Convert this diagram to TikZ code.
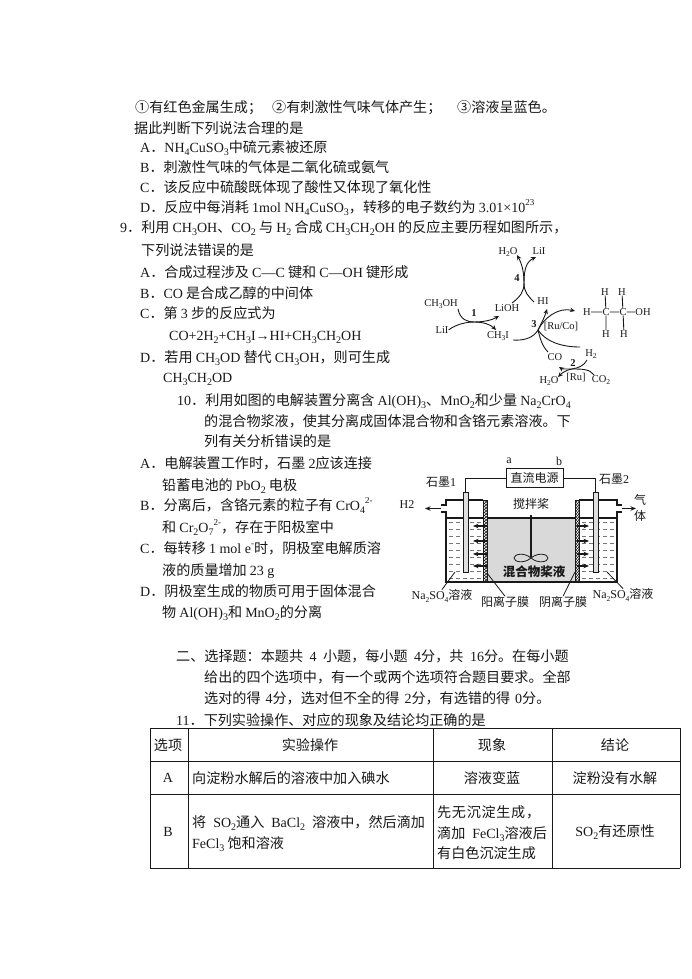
\documentclass[tikz,border=0pt]{standalone}
\usepackage{fontspec}
\setmainfont{Noto Sans CJK SC}
\newfontfamily\latinf{Liberation Serif}
\usetikzlibrary{arrows.meta,patterns}
\definecolor{ink}{gray}{0.1}
\newcommand\lt[1]{{\latinf\fontsize{14}{14}\selectfont #1}}
\newcommand\sbx[1]{\raisebox{-0.22em}{\latinf\fontsize{10}{10}\selectfont #1}}
\newcommand\spx[1]{\raisebox{0.45em}{\latinf\fontsize{9}{9}\selectfont #1}}
\newcommand\TL[4]{\node[txt] (#1) at (#2,{#3+5}) {#4};}
\newcommand\CT[4]{\node[ctxt] (#1) at (#2,#3) {#4};}
\newcommand\CH[4]{\node[chem] (#1) at (#2,#3) {#4};}
\newcommand\SB[1]{\raisebox{-0.2em}{\fontsize{7.5}{7.5}\selectfont #1}}
\newcommand\widesp[1]{\spaceskip=#1pt\relax}
\tikzset{
 txt/.style={anchor=base west,inner sep=0pt,text=ink,font=\fontsize{14.1}{14}\selectfont},
 ctxt/.style={anchor=center,inner sep=0pt,text=ink,font=\fontsize{14.1}{14}\selectfont},
 chem/.style={anchor=center,inner sep=0pt,text=ink,font=\latinf\fontsize{10.5}{10.5}\selectfont},
 lab/.style={anchor=center,inner sep=0pt,text=ink,font=\fontsize{12}{12}\selectfont},
 curve/.style={draw=ink,line width=0.9pt},
 curvearrow/.style={curve,-{Stealth[length=5pt,width=4.5pt]}},
 wire/.style={draw=ink,line width=0.8pt},
 heavy/.style={draw=ink,line width=1.2pt},
 flow/.style={draw=ink,line width=1.1pt,-{Stealth[length=5.5pt,width=4.5pt]}},
 rule/.style={draw=ink,line width=0.9pt},
 electrode/.style={draw=ink,fill=gray!25,line width=0.8pt,minimum width=5pt,minimum height=80pt,inner sep=0pt},
}
\begin{document}
\begin{tikzpicture}[x=1pt,y=-1pt]
\fill[white] (0,0) rectangle (692,979);
\useasboundingbox (0,0) rectangle (692,979);
% top text
\TL{a1}{135}{108}{①有红色金属生成；}
\TL{a2}{272}{108}{②有刺激性气味气体产生；}
\TL{a3}{457}{108}{③溶液呈蓝色。}
\TL{a4}{134}{128}{据此判断下列说法合理的是}
\TL{a5}{140}{147}{\lt{A}．\lt{NH\sbx{4}CuSO\sbx{3}}中硫元素被还原}
\TL{a6}{140}{167}{\lt{B}．刺激性气味的气体是二氧化硫或氨气}
\TL{a7}{140}{187}{\lt{C}．该反应中硫酸既体现了酸性又体现了氧化性}
\TL{a8}{140}{207}{\lt{D}．反应中每消耗 \lt{1mol NH\sbx{4}CuSO\sbx{3}}，转移的电子数约为 \lt{3.01×10\spx{23}}}
\TL{b1}{120}{227}{\lt{9}．利用 \lt{CH\sbx{3}OH}、\lt{CO\sbx{2}} 与 \lt{H\sbx{2}} 合成 \lt{CH\sbx{3}CH\sbx{2}OH} 的反应主要历程如图所示，}
\TL{b2}{141}{250}{下列说法错误的是}
\TL{b3}{140}{272}{\lt{A}．合成过程涉及 \lt{C—C} 键和 \lt{C—OH} 键形成}
\TL{b4}{140}{293}{\lt{B}．\lt{CO} 是合成乙醇的中间体}
\TL{b5}{140}{313}{\lt{C}．第 \lt{3} 步的反应式为}
\TL{b6}{169}{335}{\lt{CO+2H\sbx{2}+CH\sbx{3}I→HI+CH\sbx{3}CH\sbx{2}OH}}
\TL{b7}{140}{357}{\lt{D}．若用 \lt{CH\sbx{3}OD} 替代 \lt{CH\sbx{3}OH}，则可生成}
\TL{b8}{163}{377}{\lt{CH\sbx{3}CH\sbx{2}OD}}
\TL{c1}{177}{400}{\lt{10}．利用如图的电解装置分离含 \lt{Al(OH)\sbx{3}}、\lt{MnO\sbx{2}}和少量 \lt{Na\sbx{2}CrO\sbx{4}}}
\TL{c2}{204}{421}{的混合物浆液，使其分离成固体混合物和含铬元素溶液。下}
\TL{c3}{204}{441}{列有关分析错误的是}
\TL{c4}{140}{463}{\lt{A}．电解装置工作时，石墨 \lt{2}应该连接}
\TL{c5}{162}{485}{铅蓄电池的 \lt{PbO\sbx{2}} 电极}
\TL{c6}{140}{505}{\lt{B}．分离后，含铬元素的粒子有 \lt{CrO\sbx{4}\spx{2-}}}
\TL{c7}{162}{527}{和 \lt{Cr\sbx{2}O\sbx{7}\spx{2-}}，存在于阳极室中}
\TL{c8}{140}{548}{\lt{C}．每转移 \lt{1 mol e\spx{-}}时，阴极室电解质溶}
\TL{c9}{162}{570}{液的质量增加 \lt{23 g}}
\TL{c10}{140}{591}{\lt{D}．阴极室生成的物质可用于固体混合}
\TL{c11}{162}{612}{物 \lt{Al(OH)\sbx{3}}和 \lt{MnO\sbx{2}}的分离}
\TL{d1}{176}{656}{\widesp{6.5}二、选择题：本题共 \lt{4} 小题，每小题 \lt{4}分，共 \lt{16}分。在每小题}
\TL{d2}{204}{677}{给出的四个选项中，有一个或两个选项符合题目要求。全部}
\TL{d3}{204}{698}{\widesp{5}选对的得 \lt{4}分，选对但不全的得 \lt{2}分，有选错的得 \lt{0}分。}
\TL{d4}{176}{720}{\lt{11}．下列实验操作、对应的现象及结论均正确的是}
% table
\coordinate (tl) at (150,728); \coordinate (tr) at (680,728);
\coordinate (r1l) at (150,761); \coordinate (r1r) at (680,761);
\coordinate (r2l) at (150,794); \coordinate (r2r) at (680,794);
\coordinate (bl) at (150,868); \coordinate (br) at (680,868);
\draw[rule] (tl) -- (tr) (r1l) -- (r1r) (r2l) -- (r2r) (bl) -- (br) (tl) -- (bl) (tr) -- (br);
\foreach \xx in {188,433,552} \draw[rule] (\xx,728) -- (\xx,868);
\CT{t1}{168}{745}{选项}
\CT{t2}{310}{745}{实验操作}
\CT{t3}{492}{745}{现象}
\CT{t4}{615}{745}{结论}
\CT{t5}{168}{778}{\lt{A}}
\TL{t6}{192}{778}{向淀粉水解后的溶液中加入碘水}
\CT{t7}{492}{778}{溶液变蓝}
\CT{t8}{615}{778}{淀粉没有水解}
\CT{t9}{168}{832}{\lt{B}}
\TL{t10}{192}{822}{\widesp{7}将 \lt{SO\sbx{2}}通入 \lt{BaCl\sbx{2}} 溶液中，然后滴加}
\TL{t11}{192}{843}{\lt{FeCl\sbx{3}} 饱和溶液}
\TL{t12}{437}{812}{\addfontfeature{LetterSpace=5}先无沉淀生成，}
\TL{t13}{437}{833}{\widesp{7}滴加 \lt{FeCl\sbx{3}}溶液后}
\TL{t14}{437}{853}{有白色沉淀生成}
\CT{t15}{615}{832}{\lt{SO\sbx{2}}有还原性}
% reaction scheme
\CH{h2o}{508}{252}{H\SB{2}O}
\CH{lii2}{539}{251}{LiI}
\CH{four}{517}{278}{\textbf{4}}
\CH{lioh}{507}{308}{LiOH}
\CH{hi}{543}{301}{HI}
\CH{meoh}{441}{304}{CH\SB{3}OH}
\CH{lii}{442}{330}{LiI}
\CH{one}{474}{313}{\textbf{1}}
\CH{mei}{498}{336}{CH\SB{3}I}
\CH{three}{534}{324}{\textbf{3}}
\CH{ruco}{561}{327}{[Ru/Co]}
\CH{co}{555}{357}{CO}
\CH{h2}{591}{354}{H\SB{2}}
\CH{two}{573}{363}{\textbf{2}}
\CH{h2ob}{549}{381}{H\SB{2}O}
\CH{ru}{576}{378}{[Ru]}
\CH{co2}{601}{380}{CO\SB{2}}
\CH{eh}{587}{312}{H}
\CH{c1}{606}{312}{C}
\CH{c2}{623}{312}{C}
\CH{oh}{643}{312}{OH}
\CH{ht1}{605}{292}{H}
\CH{ht2}{622}{292}{H}
\CH{hb1}{606}{334}{H}
\CH{hb2}{624}{334}{H}
\draw[curve] (eh) -- (c1) (c1) -- (c2) (c2) -- (oh) (c1) -- (ht1) (c1) -- (hb1) (c2) -- (ht2) (c2) -- (hb2);
\coordinate (m1) at (474,322);
\coordinate (e1a) at (496,330); \coordinate (e1b) at (499,316);
\draw[curvearrow] (meoh.south east) .. controls (460,320) and (468,322) .. (m1) .. controls (482,322) and (490,324) .. (e1a);
\draw[curvearrow] (lii.east) .. controls (452,327) and (462,322) .. (m1) .. controls (484,322) and (492,320) .. (e1b);
\coordinate (m4) at (524,283);
\coordinate (s4a) at (512,303); \coordinate (s4b) at (534,302);
\coordinate (e4a) at (517,255); \coordinate (e4b) at (536,257);
\draw[curvearrow] (s4a) .. controls (520,297) and (524,292) .. (m4) .. controls (524,272) and (522,264) .. (e4a);
\draw[curvearrow] (s4b) .. controls (528,296) and (524,292) .. (m4) .. controls (524,270) and (526,262) .. (e4b);
\coordinate (m3) at (538,330);
\coordinate (s3) at (513,340); \coordinate (s3co) at (548,352); \coordinate (s3h) at (580,347);
\coordinate (e3a) at (547,309); \coordinate (e3b) at (575,311);
\draw[curvearrow] (s3) .. controls (525,341) and (534,337) .. (m3) .. controls (542,322) and (545,316) .. (e3a);
\draw[curvearrow] (s3co) .. controls (542,346) and (540,338) .. (m3) .. controls (544,318) and (558,307) .. (e3b);
\draw[curve] (s3h) .. controls (562,347) and (546,342) .. (m3);
\coordinate (m2) at (572,369);
\coordinate (s2a) at (594,375); \coordinate (s2b) at (587,360);
\coordinate (e2a) at (559,367); \coordinate (e2b) at (558,377);
\draw[curvearrow] (s2a) .. controls (590,369) and (582,369) .. (m2) .. controls (566,369) and (562,369) .. (e2a);
\draw[curvearrow] (s2b) .. controls (584,366) and (578,368) .. (m2) .. controls (566,370) and (562,373) .. (e2b);
% electrolysis cell
\fill[gray!30] (487,518) rectangle (575,582);
\foreach \yy in {522,529,...,578} {
  \foreach \xx in {449,456,...,480} \draw[ink,line width=0.4pt,opacity=0.6] (\xx,\yy) -- ++(3.5,0);
  \foreach \xx in {582,589,...,614} \draw[ink,line width=0.4pt,opacity=0.6] (\xx,\yy) -- ++(3.5,0);
}
\node[draw=ink,line width=1pt,minimum width=57pt,minimum height=19pt,inner sep=0pt,font=\fontsize{12}{12}\selectfont,text=ink] (psu) at (534.5,478) {直流电源};
\node[lab,font=\latinf\fontsize{12}{12}\selectfont] (la) at (509,461) {a};
\node[lab,font=\latinf\fontsize{12}{12}\selectfont] (lb) at (559,461) {b};
\node[lab] (g1) at (441,482) {石墨{\latinf 1}};
\node[lab] (g2) at (614,479) {石墨{\latinf 2}};
\node[electrode] (el1) at (465.5,532) {};
\node[electrode] (el2) at (595.5,532) {};
\draw[wire] (psu.west) -| (el1.north);
\draw[wire] (psu.east) -| (el2.north);
\draw[heavy] (483,500) -- (446,500) -- (446,505) -- (441,505) (441,512) -- (446,512) -- (446,582) -- (617,582) -- (617,512) -- (622,512) (622,505) -- (617,505) -- (617,500) -- (579,500);
\fill[pattern=crosshatch,pattern color=ink] (483,500) rectangle (487,582);
\fill[pattern=crosshatch,pattern color=ink] (575,500) rectangle (579,582);
\draw[wire] (483,500) rectangle (487,582) (575,500) rectangle (579,582);
\draw[heavy] (446,518) -- (483,518) (487,518) -- (575,518) (579,518) -- (617,518);
\node[electrode] at (465.5,532) {};
\node[electrode] at (595.5,532) {};
\foreach \yy in {526,541,554,566} {
  \draw[flow] (487,\yy) -- (473,\yy);
  \draw[flow] (577,\yy) -- (589,\yy);
}
\node[lab] (stir) at (531,504) {搅拌桨};
\coordinate (s1) at (531,515); \coordinate (s2) at (531,557);
\draw[draw=ink,line width=1.2pt] (s1) -- (s2);
\draw[wire] (531,558) .. controls (524,552) and (514,554) .. (514,558) .. controls (514,562) and (524,564) .. (531,558) .. controls (538,552) and (548,554) .. (548,558) .. controls (548,562) and (538,564) .. (531,558);
\node[lab,font=\fontsize{12.5}{13}\selectfont\bfseries] (mix) at (534,572) {混合物桨液};
\node[lab,font=\latinf\fontsize{12}{12}\selectfont] (h2t) at (407,505) {H2};
\node[lab] (qi) at (640,500) {气};
\node[lab] (ti) at (640,516) {体};
\coordinate (pl) at (441,508.5); \coordinate (pr) at (622,508.5);
\draw[flow] (pl) -- (425,508.5);
\draw[flow] (pr) -- (636,508.5);
\node[lab] (na1) at (442,596) {{\latinf\fontsize{12}{12}\selectfont Na\SB{2}SO\SB{4}}溶液};
\node[lab] (na2) at (623,595) {{\latinf\fontsize{12}{12}\selectfont Na\SB{2}SO\SB{4}}溶液};
\node[lab] (yang) at (505,602) {阳离子膜};
\node[lab] (yin) at (563,602) {阴离子膜};
\coordinate (l1) at (455,572); \coordinate (l2) at (607,572); \coordinate (l3) at (487,573); \coordinate (l4) at (575,572);
\draw[wire] (l1) -- (na1.north);
\draw[wire] (l2) -- (na2.north);
\draw[wire] (l3) -- (yang.north);
\draw[wire] (l4) -- (yin.north);
\end{tikzpicture}
\end{document}
